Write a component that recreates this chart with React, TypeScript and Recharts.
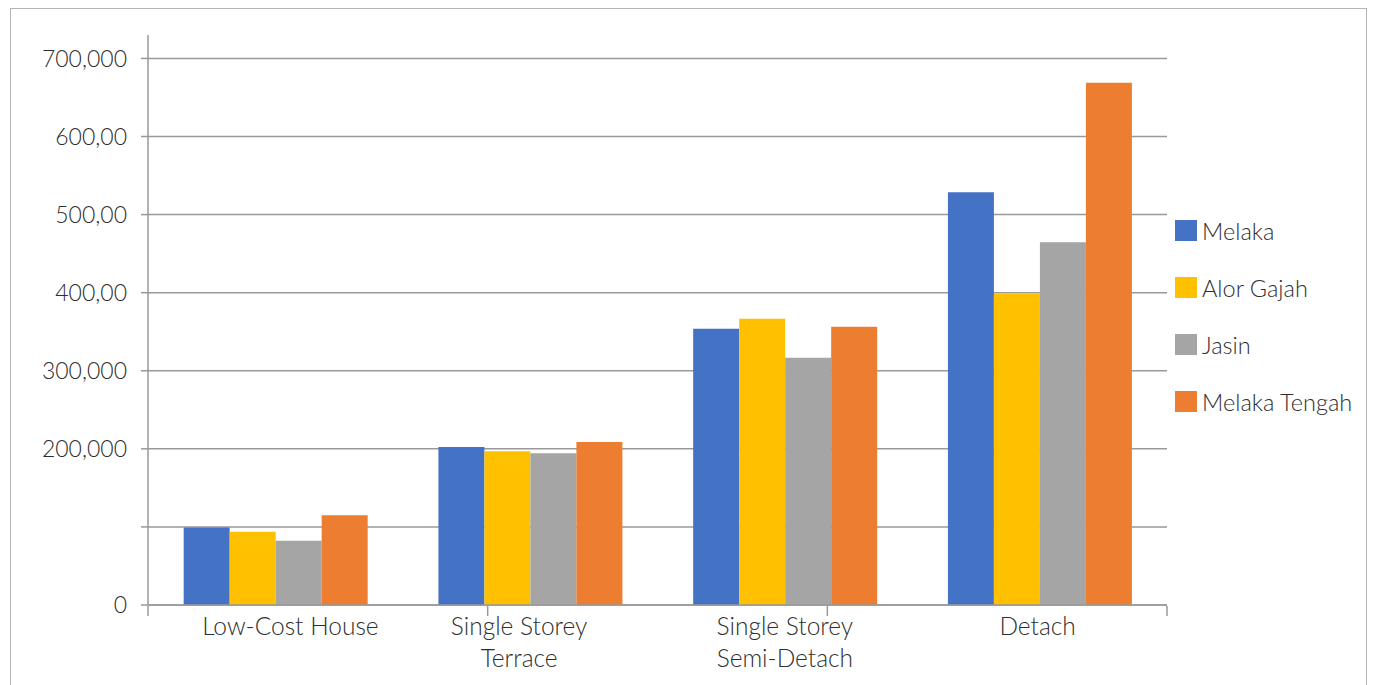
import { BarChart, Bar, XAxis, YAxis, CartesianGrid, Legend } from 'recharts';

// Average house prices (RM) by house type and district
const categories = ['Low-Cost House', 'Single Storey\nTerrace', 'Single Storey\nSemi-Detach', 'Detach'];
const melaka = [99400, 202400, 353800, 528500];
const alorGajah = [93800, 196900, 366600, 398600];
const jasin = [82300, 194400, 316700, 464600];
const melakaTengah = [115000, 208800, 356400, 669000];

const yTicks = [0, 100000, 200000, 300000, 400000, 500000, 600000, 700000];
const yTickLabels = ['0', '', '200,000', '300,000', '400,00', '500,00', '600,00', '700,000'];
const edgeTicks = [0, 1, 2, 3, 4];

const series = [
  { key: 'melaka', name: 'Melaka', color: '#4472C4' },
  { key: 'alorGajah', name: 'Alor Gajah', color: '#FFC000' },
  { key: 'jasin', name: 'Jasin', color: '#A5A5A5' },
  { key: 'melakaTengah', name: 'Melaka Tengah', color: '#ED7D31' },
];

const data = categories.map((name, i) => ({
  name,
  melaka: melaka[i],
  alorGajah: alorGajah[i],
  jasin: jasin[i],
  melakaTengah: melakaTengah[i],
}));

const FONT = 'Lato, "Open Sans", sans-serif';
const TEXT = '#2e2e2e';
const GRID = '#999999';
// small horizontal nudges so wrapped labels sit like the Excel layout
const LABEL_DX = [15, -11, 0, -2];

function CategoryTick({ x, y, payload, index }: any) {
  const lines = String(payload.value).split('\n');
  const cx = x + (LABEL_DX[index] ?? 0);
  return (
    <text x={cx} y={y} textAnchor="middle" fill={TEXT} fontSize={24.5} fontWeight={300} fontFamily={FONT}>
      {lines.map((line, i) => (
        <tspan key={i} x={cx} dy={i === 0 ? 30 : 32}>
          {line}
        </tspan>
      ))}
    </text>
  );
}

function LegendContent() {
  return (
    <div style={{ fontFamily: FONT, fontSize: 23.5, fontWeight: 300, color: TEXT }}>
      {series.map((s) => (
        <div key={s.key} style={{ display: 'flex', alignItems: 'center', height: 57 }}>
          <span style={{ width: 22, height: 21, background: s.color, marginRight: 5, display: 'inline-block' }} />
          <span>{s.name}</span>
        </div>
      ))}
    </div>
  );
}

export default function App() {
  return (
    <div style={{ position: 'absolute', left: 0, top: 0, width: 1374, height: 685, overflow: 'hidden', background: '#fff' }}>
      <div
        style={{
          position: 'absolute',
          left: 10,
          top: 8,
          width: 1357,
          height: 700,
          border: '1.5px solid #b4b4b4',
          boxSizing: 'border-box',
        }}
      />
      <BarChart
        width={1374}
        height={685}
        data={data}
        margin={{ top: 35, right: 207, bottom: 78, left: 0 }}
        barCategoryGap="14%"
        barGap={0}
        style={{ position: 'absolute', left: 0, top: 0 }}
      >
        <CartesianGrid vertical={false} stroke={GRID} strokeWidth={1.5} horizontalValues={yTicks} />
        <YAxis
          width={148}
          domain={[0, 730000]}
          ticks={yTicks}
          interval={0}
          tickFormatter={(v: number) => yTickLabels[yTicks.indexOf(v)] ?? ''}
          tick={{ fill: TEXT, fontSize: 23, fontWeight: 300, fontFamily: FONT }}
          axisLine={{ stroke: GRID, strokeWidth: 1.5 }}
          tickLine={{ stroke: GRID, strokeWidth: 1.5 }}
          tickSize={7}
          tickMargin={14}
        />
        <XAxis
          dataKey="name"
          height={1}
          interval={0}
          tick={<CategoryTick />}
          axisLine={{ stroke: GRID, strokeWidth: 1.5 }}
          tickLine={false}
          tickSize={0}
          tickMargin={0}
        />
        {/* category boundary tick marks */}
        <XAxis
          xAxisId="edges"
          type="number"
          domain={[0, 4]}
          ticks={edgeTicks}
          interval={0}
          allowDataOverflow
          height={1}
          tickFormatter={() => ''}
          axisLine={false}
          tickLine={{ stroke: GRID, strokeWidth: 1.5 }}
          tickSize={10}
        />
        {series.map((s) => (
          <Bar key={s.key} dataKey={s.key} name={s.name} fill={s.color} isAnimationActive={false} />
        ))}
        <Legend
          layout="vertical"
          align="center"
          verticalAlign="middle"
          content={<LegendContent />}
          wrapperStyle={{ left: 1175, top: 202, width: 190, right: 'auto', bottom: 'auto' }}
        />
      </BarChart>
    </div>
  );
}
